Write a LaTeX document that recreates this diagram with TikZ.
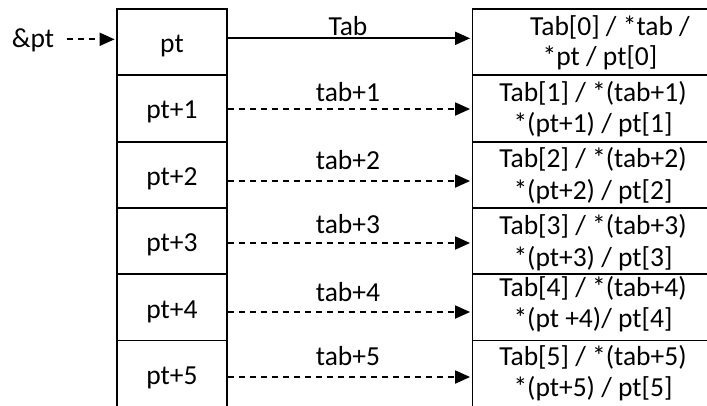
\documentclass[tikz,border=0pt]{standalone}
\usepackage{fontspec}
\setmainfont{Carlito}
\usetikzlibrary{arrows.meta}
\begin{document}
\begin{tikzpicture}[x=1pt,y=-1pt,
  cell/.style={draw, line width=1.8pt, inner sep=0pt},
  slot/.style={cell, minimum width=110pt, minimum height=66.3pt},
  entry/.style={cell, minimum width=239.5pt, minimum height=66.3pt},
  txt/.style={anchor=base, inner sep=0pt, font=\fontsize{27.5}{32}\selectfont},
  ptr/.style={line width=1.8pt, -{Triangle[length=15pt,width=13pt]}, shorten >=1.5pt},
  ptrdash/.style={ptr, dash pattern=on 6pt off 5pt}]
\useasboundingbox (0,0) rectangle (707,405);
\clip (0,0) rectangle (707,405);

% memory cells of the pointer (left) and the array elements (right)
\foreach \i in {0,...,5}{
  \node[slot]  (l\i) at (172,   {42.15+66.3*\i}) {};
  \node[entry] (r\i) at (592.25,{42.15+66.3*\i}) {};
}

% names of the left cells
\node[txt] (lt0) at (172,52)  {pt};
\node[txt] (lt1) at (172,118) {pt+1};
\node[txt] (lt2) at (172,185) {pt+2};
\node[txt] (lt3) at (172,251) {pt+3};
\node[txt] (lt4) at (172,318) {pt+4};
\node[txt] (lt5) at (172,384) {pt+5};

% contents of the array cells
\node[txt] (ra0) at (610,35)    {Tab[0] / *tab /};
\node[txt] (rb0) at (600,65)    {*pt / pt[0]};
\node[txt] (ra1) at (593,101)   {Tab[1] / *(tab+1)};
\node[txt] (rb1) at (593,132.7) {*(pt+1) / pt[1]};
\node[txt] (ra2) at (593,167.5) {Tab[2] / *(tab+2)};
\node[txt] (rb2) at (593,199)   {*(pt+2) / pt[2]};
\node[txt] (ra3) at (593,234)   {Tab[3] / *(tab+3)};
\node[txt] (rb3) at (593,266)   {*(pt+3) / pt[3]};
\node[txt] (ra4) at (593,296.5) {Tab[4] / *(tab+4)};
\node[txt] (rb4) at (593,327)   {*(pt +4)/ pt[4]};
\node[txt] (ra5) at (593,365)   {Tab[5] / *(tab+5)};
\node[txt] (rb5) at (593,396)   {*(pt+5) / pt[5]};

% address of the pointer
\node[txt] (amp) at (33,47) {\&pt};
\coordinate (ampout) at (66.5,39.3);
\draw[ptrdash] (ampout) -- (l0.west |- ampout);

% links from each cell to its array element
\draw[ptr]     (l0.east |- 0,38.3) -- (r0.west |- 0,38.3);
\draw[ptrdash] (l1.east |- 0,109)  -- (r1.west |- 0,109);
\draw[ptrdash] (l2.east |- 0,181)  -- (r2.west |- 0,181);
\draw[ptrdash] (l3.east |- 0,243)  -- (r3.west |- 0,243);
\draw[ptrdash] (l4.east |- 0,312)  -- (r4.west |- 0,312);
\draw[ptrdash] (l5.east |- 0,377)  -- (r5.west |- 0,377);

% link labels
\node[txt] (at0) at (348,35)  {Tab};
\node[txt] (at1) at (348,101) {tab+1};
\node[txt] (at2) at (348,169) {tab+2};
\node[txt] (at3) at (348,233) {tab+3};
\node[txt] (at4) at (348,301) {tab+4};
\node[txt] (at5) at (348,365) {tab+5};
\end{tikzpicture}
\end{document}
